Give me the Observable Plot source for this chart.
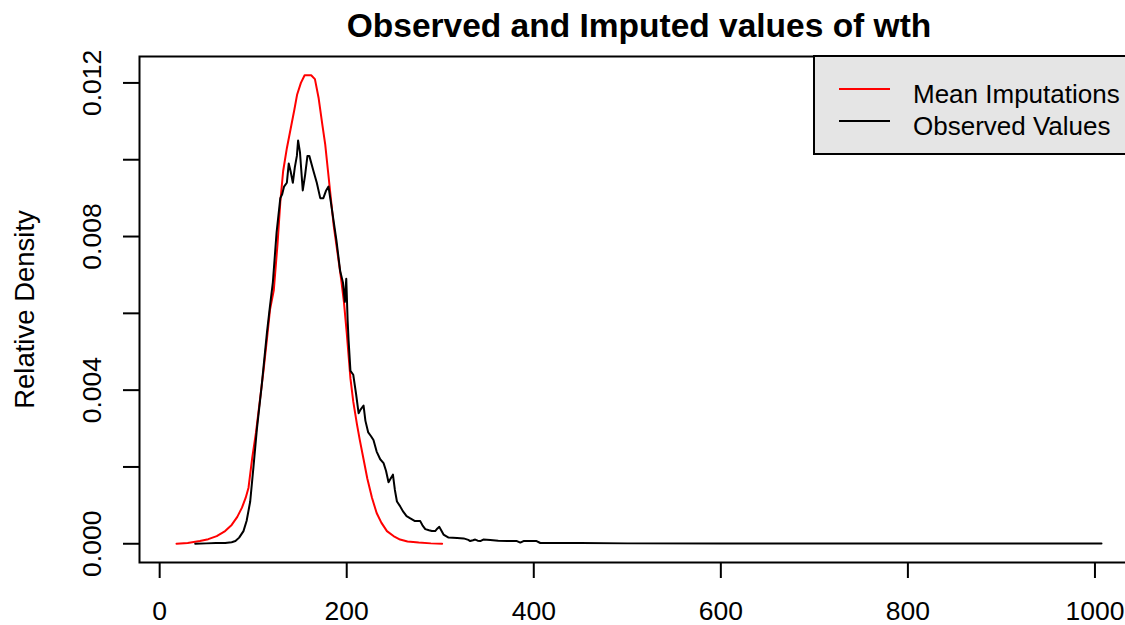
<!DOCTYPE html>
<html>
<head>
<meta charset="utf-8">
<script src="https://cdn.jsdelivr.net/npm/d3@7"></script>
<script src="https://cdn.jsdelivr.net/npm/@observablehq/plot@0.6"></script>
<style>
  html, body { margin: 0; padding: 0; background: #fff; overflow: hidden; width: 1125px; height: 625px; }
  #wrap { position: relative; width: 1140px; height: 625px; }
  #legend { position: absolute; left: 0; top: 0; pointer-events: none; }
</style>
</head>
<body>
<div id="wrap"></div>
<script>
// ---- data ----
const title = "Observed and Imputed values of wth";
const yAxisLabel = "Relative Density";
const seriesNames = ["Mean Imputations", "Observed Values"];
const seriesColors = ["#FF0000", "#000000"];

const xTicks = [0, 200, 400, 600, 800, 1000];
const yTicks = [0, 0.002, 0.004, 0.006, 0.008, 0.010, 0.012];
const yTickLabels = [0, 0.004, 0.008, 0.012];

// Mean Imputations (red)
const impX = [18, 30, 43, 52, 61, 70, 77, 83, 88, 92, 95, 99, 103, 107, 111, 115, 118, 122, 126, 129, 132, 136, 140, 144, 147, 151, 155, 158, 162, 166, 170, 174, 177, 180, 183, 186, 190, 194, 197, 200, 204, 207, 211, 214, 218, 222, 227, 232, 237, 243, 250, 257, 265, 277, 290, 302];
const impY = [0, 0.00002, 0.00007, 0.00012, 0.0002, 0.00033, 0.00049, 0.0007, 0.00094, 0.0012, 0.00146, 0.00224, 0.0029, 0.0037, 0.0045, 0.0054, 0.0061, 0.0066, 0.0078, 0.0089, 0.0097, 0.0103, 0.0108, 0.0113, 0.0117, 0.0120, 0.0122, 0.0122, 0.0122, 0.0121, 0.0116, 0.0109, 0.0104, 0.0097, 0.0090, 0.0083, 0.0076, 0.0069, 0.0063, 0.0055, 0.0043, 0.0037, 0.0031, 0.0027, 0.0022, 0.0017, 0.0012, 0.0008, 0.00055, 0.00033, 0.0002, 0.00011, 0.00006, 0.00003, 0.00001, 0];

// Observed Values (black)
const obsX = [38, 50, 60, 70, 77, 81, 85, 89.6, 93, 96.8, 100.3, 104, 109, 114.7, 118, 121, 125, 129, 131, 133, 136, 138, 140, 142.4, 144.5, 146.7, 148, 150, 153, 155.5, 158, 160, 164.5, 168, 171.7, 175, 178, 180.5, 183, 186, 189, 193, 196, 198, 199.5, 201, 202, 204, 207, 210, 212.7, 215, 218, 220, 223, 226, 228.6, 232, 235.8, 239.4, 242, 244.7, 247, 249.4, 251.5, 253.7, 257, 260, 264, 268, 273, 278.6, 281, 284, 288, 291, 294.6, 297, 299, 301, 303.5, 308.9, 318, 325, 330, 332, 335, 337.4, 340, 342.8, 346, 353.5, 362, 372, 382, 385.6, 389, 395, 403, 407, 450, 500, 600, 700, 800, 900, 1007];
const obsY = [0, 0.00001, 0.00002, 0.00002, 0.00004, 0.00007, 0.00016, 0.00033, 0.0006, 0.0011, 0.0020, 0.0030, 0.0041, 0.0055, 0.0062, 0.0068, 0.0081, 0.0090, 0.0091, 0.0093, 0.0094, 0.0099, 0.0097, 0.0094, 0.0098, 0.0101, 0.0105, 0.0102, 0.0092, 0.0096, 0.0101, 0.0101, 0.0097, 0.0094, 0.0090, 0.0090, 0.0092, 0.0093, 0.0089, 0.0084, 0.0079, 0.0071, 0.0068, 0.0063, 0.0069, 0.0058, 0.0053, 0.0045, 0.0044, 0.0039, 0.0034, 0.0035, 0.0036, 0.0032, 0.0029, 0.0028, 0.0027, 0.0024, 0.0022, 0.0021, 0.0019, 0.0016, 0.0017, 0.0018, 0.0014, 0.0011, 0.00098, 0.00085, 0.00072, 0.00066, 0.00059, 0.00059, 0.00048, 0.00038, 0.00035, 0.00033, 0.00033, 0.0004, 0.00044, 0.00035, 0.00024, 0.00016, 0.00015, 0.00014, 0.0001, 0.00007, 0.00009, 0.00011, 0.00008, 0.00007, 0.00011, 0.0001, 0.00008, 0.00007, 0.00007, 0.00003, 0.00007, 0.00007, 0.00007, 0.00002, 0.00002, 0.00001, 0.00001, 0.00001, 0.00001, 0.00001, 0.00001];

const imputed = impX.map((x, i) => ({x, y: impY[i]}));
const observed = obsX.map((x, i) => ({x, y: obsY[i]}));

// R-style axis extension (4%)
const xAll = impX.concat(obsX), yAll = impY.concat(obsY);
const xMin = d3.min(xAll), xMax = d3.max(xAll), yMin = d3.min(yAll), yMax = d3.max(yAll);
const xPad = (xMax - xMin) * 0.04, yPad = (yMax - yMin) * 0.04;

const FONT = "'Liberation Sans', Arial, sans-serif";

const chart = Plot.plot({
  width: 1140,
  height: 625,
  marginLeft: 139,
  marginRight: 2,
  marginTop: 56,
  marginBottom: 63,
  style: {fontFamily: FONT, fontSize: "26.5px", color: "#000", background: "#fff", overflow: "visible"},
  x: {domain: [xMin - xPad, xMax + xPad]},
  y: {domain: [yMin - yPad, yMax + yPad]},
  marks: [
    Plot.frame({stroke: "#000", strokeWidth: 2}),
    Plot.axisX({ticks: xTicks, tickSize: 16, tickPadding: 22.5, strokeWidth: 2, label: null, tickFormat: d => String(d)}),
    Plot.axisY({ticks: yTicks, tickSize: 16, strokeWidth: 2, label: null, tickFormat: () => ""}),
    Plot.text(yTickLabels, {y: d => d, frameAnchor: "left", text: d => d.toFixed(3), rotate: -90, dx: -39, lineAnchor: "bottom", textAnchor: "middle", fill: "#000"}),
    Plot.text([yAxisLabel], {frameAnchor: "left", text: d => d, rotate: -90, dx: -105.5, lineAnchor: "bottom", textAnchor: "middle", fontSize: 27.5, fill: "#000"}),
    Plot.text([title], {frameAnchor: "top", text: d => d, dy: -20, lineAnchor: "bottom", fontSize: 33.5, fontWeight: "bold", fill: "#000"}),
    Plot.line(imputed, {x: "x", y: "y", stroke: seriesColors[0], strokeWidth: 2}),
    Plot.line(observed, {x: "x", y: "y", stroke: seriesColors[1], strokeWidth: 2})
  ]
});
document.getElementById("wrap").appendChild(chart);

// Legend (R-style, top-right inside the plot box)
const leg = d3.select("#wrap").append("svg").attr("id", "legend")
  .attr("width", 1140).attr("height", 625)
  .style("font-family", FONT).style("font-size", "26px");
leg.append("rect").attr("x", 814).attr("y", 56).attr("width", 324).attr("height", 98)
  .attr("fill", "#E5E5E5").attr("stroke", "#000").attr("stroke-width", 2);
const rowsY = [89, 121], baseY = [102.5, 135];
seriesNames.forEach((name, i) => {
  leg.append("line").attr("x1", 839).attr("x2", 890).attr("y1", rowsY[i]).attr("y2", rowsY[i])
    .attr("stroke", seriesColors[i]).attr("stroke-width", 2);
  leg.append("text").attr("x", 913).attr("y", baseY[i]).attr("fill", "#000").text(name);
});
</script>
</body>
</html>
